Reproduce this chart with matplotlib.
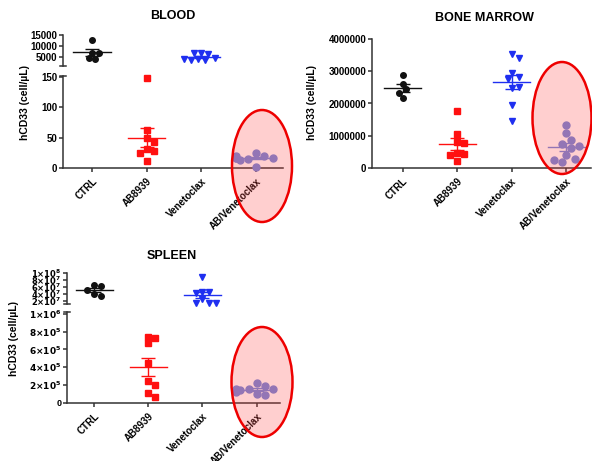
import numpy as np
import matplotlib
matplotlib.use('Agg')
import matplotlib.pyplot as plt
from matplotlib.patches import Ellipse

plt.rcParams['font.family'] = ['Liberation Sans', 'DejaVu Sans']
plt.rcParams['font.weight'] = 'bold'

W, H = 592, 461

GROUPS = ['CTRL', 'AB8939', 'Venetoclax', 'AB/Venetoclax']
COLORS = ['#111111', '#ff1010', '#1f2ff0', '#7088dd']
MARKERS = ['o', 's', 'v', 'o']
MSIZES = [4.0, 4.2, 4.2, 5.0]

# BLOOD (cells/uL)
blood_ctrl = [12800, 7000, 6700, 4600, 4300]
blood_ab = [149, 62, 50, 43, 32, 28, 25, 11]
blood_ven = [6600, 6200, 6600, 4600, 4000, 3700, 3600, 3900]
blood_abven = [25, 19, 15, 16, 14, 17, 20, 17, 2]

# BONE MARROW
bm_ctrl = [2.88e6, 2.60e6, 2.44e6, 2.34e6, 2.18e6]
bm_ab = [1.77e6, 1.06e6, 0.82e6, 0.77e6, 0.48e6, 0.44e6, 0.41e6, 0.21e6]
bm_ven = [3.53e6, 3.42e6, 2.95e6, 2.83e6, 2.77e6, 2.47e6, 2.50e6, 1.94e6, 1.47e6]
bm_abven = [1.34e6, 1.10e6, 0.87e6, 0.75e6, 0.69e6, 0.62e6, 0.41e6, 0.28e6, 0.19e6, 0.26e6]

# SPLEEN
sp_ctrl = [6.6e7, 6.3e7, 5.2e7, 4.1e7, 3.4e7]
sp_ab = [0.744e6, 0.733e6, 0.67e6, 0.45e6, 0.25e6, 0.195e6, 0.105e6, 0.06e6]
sp_ven = [9.0e7, 4.6e7, 4.4e7, 4.3e7, 2.6e7, 1.3e7, 1.4e7, 1.2e7]
sp_abven = [0.22e6, 0.19e6, 0.16e6, 0.15e6, 0.14e6, 0.10e6, 0.09e6, 0.12e6, 0.15e6]

YLABEL = 'hCD33 (cell/µL)'

fig = plt.figure(figsize=(W / 100, H / 100), dpi=100)


def px_axes(left, top, right, bottom):
    return fig.add_axes([left / W, 1 - bottom / H, (right - left) / W, (bottom - top) / H])


def style(ax, bottom=True):
    for s in ['top', 'right']:
        ax.spines[s].set_visible(False)
    for s in ['left', 'bottom']:
        ax.spines[s].set_linewidth(1.1)
        ax.spines[s].set_color('#333333')
    ax.tick_params(axis='y', length=3, width=1.1, labelsize=7, pad=1, color='#333333')
    ax.set_xlim(-0.53, 3.49)
    if bottom:
        ax.set_xticks(range(4))
        ax.set_xticklabels(GROUPS, rotation=45, ha='right', rotation_mode='anchor',
                           fontsize=7, fontweight='bold')
        ax.tick_params(axis='x', length=3, width=1.1, pad=3, color='#333333')
    else:
        ax.spines['bottom'].set_visible(False)
        ax.set_xticks([])
    ax.patch.set_alpha(0)


def swarm_x(ax, x0, vals, d):
    # spread overlapping points sideways (pixel space), like a dot plot
    pts = ax.transData.transform(np.column_stack([np.full(len(vals), x0), vals]))
    placed = []
    out = []
    for px, py in pts:
        for k in [0, 1, -1, 2, -2, 3, -3, 4, -4, 5, -5]:
            cx = px + k * d * 0.55
            if all((cx - qx) ** 2 + (py - qy) ** 2 >= d * d for qx, qy in placed):
                break
        placed.append((cx, py))
        out.append(cx)
    inv = ax.transData.inverted()
    return [inv.transform((cx, py))[0] for cx, (px, py) in zip(out, pts)]


def group(ax, i, vals):
    c = COLORS[i]
    dpx = MSIZES[i] * 100 / 72 + 0.5
    xs = swarm_x(ax, i, vals, dpx)
    ax.plot(xs, vals, ls='none', marker=MARKERS[i], ms=MSIZES[i], color=c,
            mec=c, clip_on=False, zorder=3)
    m = np.mean(vals)
    sem = np.std(vals, ddof=1) / np.sqrt(len(vals))
    ax.plot([i - 0.34, i + 0.34], [m, m], color=c, lw=1.0, zorder=4, clip_on=False)
    ax.errorbar([i], [m], yerr=[sem], color=c, lw=1.0, capsize=5, capthick=1.0,
                zorder=4, clip_on=False)


def break_marks(ax, where):
    y = 0 if where == 'bottom' else 1
    ax.plot([-0.015, 0.015], [y, y], transform=ax.transAxes, color='#333333',
            lw=1.1, clip_on=False)


def oval(cx, cy, w, h):
    e = Ellipse((cx / W, 1 - cy / H), w / W, h / H, transform=fig.transFigure,
                facecolor=(1.0, 0.25, 0.25, 0.25), edgecolor='#ee0000', lw=1.8, zorder=10)
    fig.add_artist(e)


# ---- BLOOD ----
bt = px_axes(63, 35 - 200 * 0.0022, 283, 66)
bt.set_ylim(900, 15200)
style(bt, bottom=False)
bt.set_yticks([5000, 10000, 15000])
break_marks(bt, 'bottom')

bb = px_axes(63, 168 - 152 * 91 / 150, 283, 168)
bb.set_ylim(0, 152)
style(bb)
bb.set_yticks([0, 50, 100, 150])
break_marks(bb, 'top')

group(bt, 0, blood_ctrl)
group(bb, 1, blood_ab)
group(bt, 2, blood_ven)
group(bb, 3, blood_abven)

fig.text(173 / W, 1 - 16 / H, 'BLOOD', ha='center', va='center', fontsize=9, fontweight='bold')
fig.text(25 / W, 1 - 102 / H, YLABEL, rotation=90, ha='center', va='center',
         fontsize=7.5, fontweight='bold')
oval(262, 166, 60, 112)

# ---- BONE MARROW ----
bm = px_axes(372, 39, 591, 168)
bm.set_ylim(0, 4e6)
style(bm)
bm.set_yticks([0, 1e6, 2e6, 3e6, 4e6])
bm.set_yticklabels(['0', '1000000', '2000000', '3000000', '4000000'])
bm.set_xlim(-0.56, 3.45)
group(bm, 0, bm_ctrl)
group(bm, 1, bm_ab)
group(bm, 2, bm_ven)
group(bm, 3, bm_abven)

fig.text(484 / W, 1 - 18 / H, 'BONE MARROW', ha='center', va='center', fontsize=9, fontweight='bold')
fig.text(312 / W, 1 - 102 / H, YLABEL, rotation=90, ha='center', va='center',
         fontsize=7.5, fontweight='bold')
oval(562, 118, 59, 112)

# ---- SPLEEN ----
st = px_axes(67, 272.6, 280, 303.8)
st.set_ylim(1.1e7, 1.02e8)
style(st, bottom=False)
st.set_yticks([2e7, 4e7, 6e7, 8e7, 1e8])
st.set_yticklabels([r'$\mathbf{2{\times}10^7}$', r'$\mathbf{4{\times}10^7}$',
                    r'$\mathbf{6{\times}10^7}$', r'$\mathbf{8{\times}10^7}$',
                    r'$\mathbf{1{\times}10^8}$'])
st.tick_params(axis='y', labelsize=6)
st.set_xlim(-0.5, 3.43)
break_marks(st, 'bottom')

sb = px_axes(67, 402.7 - 1.02 * 88.7, 280, 402.7)
sb.set_ylim(0, 1.02e6)
style(sb)
sb.set_xlim(-0.5, 3.43)
sb.set_yticks([0, 2e5, 4e5, 6e5, 8e5, 1e6])
sb.set_yticklabels(['0', r'$\mathbf{2{\times}10^5}$', r'$\mathbf{4{\times}10^5}$',
                    r'$\mathbf{6{\times}10^5}$', r'$\mathbf{8{\times}10^5}$',
                    r'$\mathbf{1{\times}10^6}$'])
sb.tick_params(axis='y', labelsize=6.5)
break_marks(sb, 'top')

group(st, 0, sp_ctrl)
group(sb, 1, sp_ab)
group(st, 2, sp_ven)
group(sb, 3, sp_abven)

fig.text(172 / W, 1 - 256 / H, 'SPLEEN', ha='center', va='center', fontsize=9, fontweight='bold')
fig.text(14 / W, 1 - 338 / H, YLABEL, rotation=90, ha='center', va='center',
         fontsize=7.5, fontweight='bold')
oval(262, 382, 61, 110)

fig.savefig('out.png', dpi=100)
